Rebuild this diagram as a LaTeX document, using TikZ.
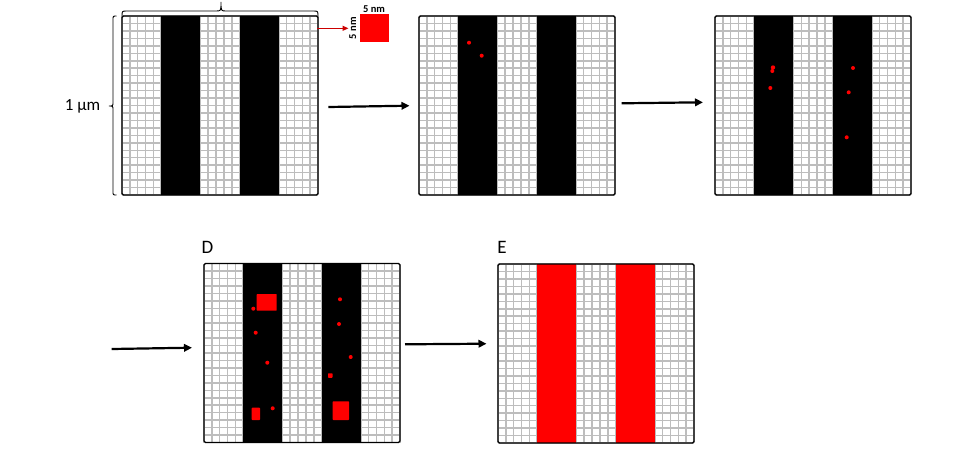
\documentclass[tikz,border=0pt]{standalone}
\usepackage{fontspec}
\setmainfont{Carlito}
\usetikzlibrary{arrows.meta}
\tikzset{
  gridline/.style={draw=gray!52, line width=1.5pt},
  panelborder/.style={draw=black, line width=1.1pt, rounded corners=1.5pt},
  flow/.style={draw=black, line width=2.2pt, -{Triangle[length=8pt,width=7.5pt]}},
  redflow/.style={draw=red!80!black, line width=1.1pt, -{Triangle[length=6pt,width=5pt]}},
  bracepath/.style={draw=black, line width=0.9pt},
  dot/.style={fill=red},
  redbox/.style={fill=red, rounded corners=0.6pt},
  lbl/.style={font=\fontsize{19}{21}\selectfont, inner sep=0pt},
}
\newcommand\stripepanel[3]{%
  \begin{scope}[shift={(#1,#2)}]
    \foreach \k in {0,...,25} \draw[gridline] ({\k*7.84},0) -- ({\k*7.84},179);
    \foreach \j in {0,...,24} \draw[gridline] (0,{\j*7.4583}) -- (196,{\j*7.4583});
    \fill[#3] (39.2,0) rectangle (78.4,179);
    \fill[#3] (117.6,0) rectangle (156.8,179);
    \draw[panelborder] (0,0) rectangle (196,179);
  \end{scope}}
\begin{document}
\begin{tikzpicture}[x=1pt,y=-1pt]
  \useasboundingbox (0,0) rectangle (960,450);
  % panels
  \stripepanel{122}{16}{black}
  \stripepanel{419}{16}{black}
  \stripepanel{715}{16}{black}
  \stripepanel{204}{263.5}{black}
  \stripepanel{498}{264}{red}
  % braces
  \draw[bracepath] (122,16.5) .. controls (122,11) .. (127,11) -- (216,11)
     .. controls (221,11) .. (221,2) .. controls (221,11) .. (226,11) -- (313,11)
     .. controls (318,11) .. (318,16.5);
  \draw[bracepath] (116.5,16) .. controls (113,16) .. (113,20) -- (113,102)
     .. controls (113,106) .. (109,106) .. controls (113,106) .. (113,110) -- (113,191)
     .. controls (113,195) .. (116.5,195);
  \node[font=\fontsize{17}{19}\selectfont, inner sep=0pt] (um) at (82.5,106) {1 µm};
  % 5 nm cell
  \node[fill=red, minimum width=29pt, minimum height=28pt, inner sep=0pt, anchor=north west] (cell) at (359.3,14) {};
  \node[font=\bfseries\fontsize{10.5}{12}\selectfont, inner sep=0pt] (nmtop) at (374,9.5) {5 nm};
  \node[font=\bfseries\fontsize{10.5}{12}\selectfont, inner sep=0pt, rotate=90] (nmleft) at (352.7,28.3) {5 nm};
  \coordinate (rA) at (317,28.3);
  \coordinate (rB) at (348.5,28.3);
  \draw[redflow] (rA) -- (rB);
  % arrows
  \coordinate (a1) at (328.3,107);
  \coordinate (a2) at (409.5,105.7);
  \coordinate (b1) at (621.7,103.3);
  \coordinate (b2) at (703,102.3);
  \coordinate (c1) at (111.7,349);
  \coordinate (c2) at (192,347.7);
  \coordinate (d1) at (405,344.3);
  \coordinate (d2) at (486.5,343.7);
  \draw[flow] (a1) -- (a2);
  \draw[flow] (b1) -- (b2);
  \draw[flow] (c1) -- (c2);
  \draw[flow] (d1) -- (d2);
  % labels
  \node[lbl] (labD) at (207.5,247) {D};
  \node[lbl] (labE) at (502,247.3) {E};
  % B dots
  \fill[dot] (469,42.7) circle (2);
  \fill[dot] (481.7,55.7) circle (2);
  % C dots
  \fill[dot] (773,67.5) circle (2.2);
  \fill[dot] (772.3,71) circle (2);
  \fill[dot] (770.3,88) circle (2);
  \fill[dot] (853,68) circle (2);
  \fill[dot] (848.7,92.3) circle (2);
  \fill[dot] (846.7,137.3) circle (2);
  % D dots and clusters
  \fill[redbox] (256.7,294) rectangle (276.7,310.7);
  \fill[redbox] (251.7,407.7) rectangle (260,420);
  \fill[redbox] (328,373.3) rectangle (332.5,377.8);
  \fill[redbox] (332.7,401.3) rectangle (349,420);
  \fill[dot] (253.3,308.7) circle (2);
  \fill[dot] (255.7,332.7) circle (2);
  \fill[dot] (267.3,362.7) circle (2);
  \fill[dot] (272.7,408.3) circle (2);
  \fill[dot] (340,299.3) circle (2);
  \fill[dot] (339,324) circle (2);
  \fill[dot] (350.7,357) circle (2);
\end{tikzpicture}
\end{document}
